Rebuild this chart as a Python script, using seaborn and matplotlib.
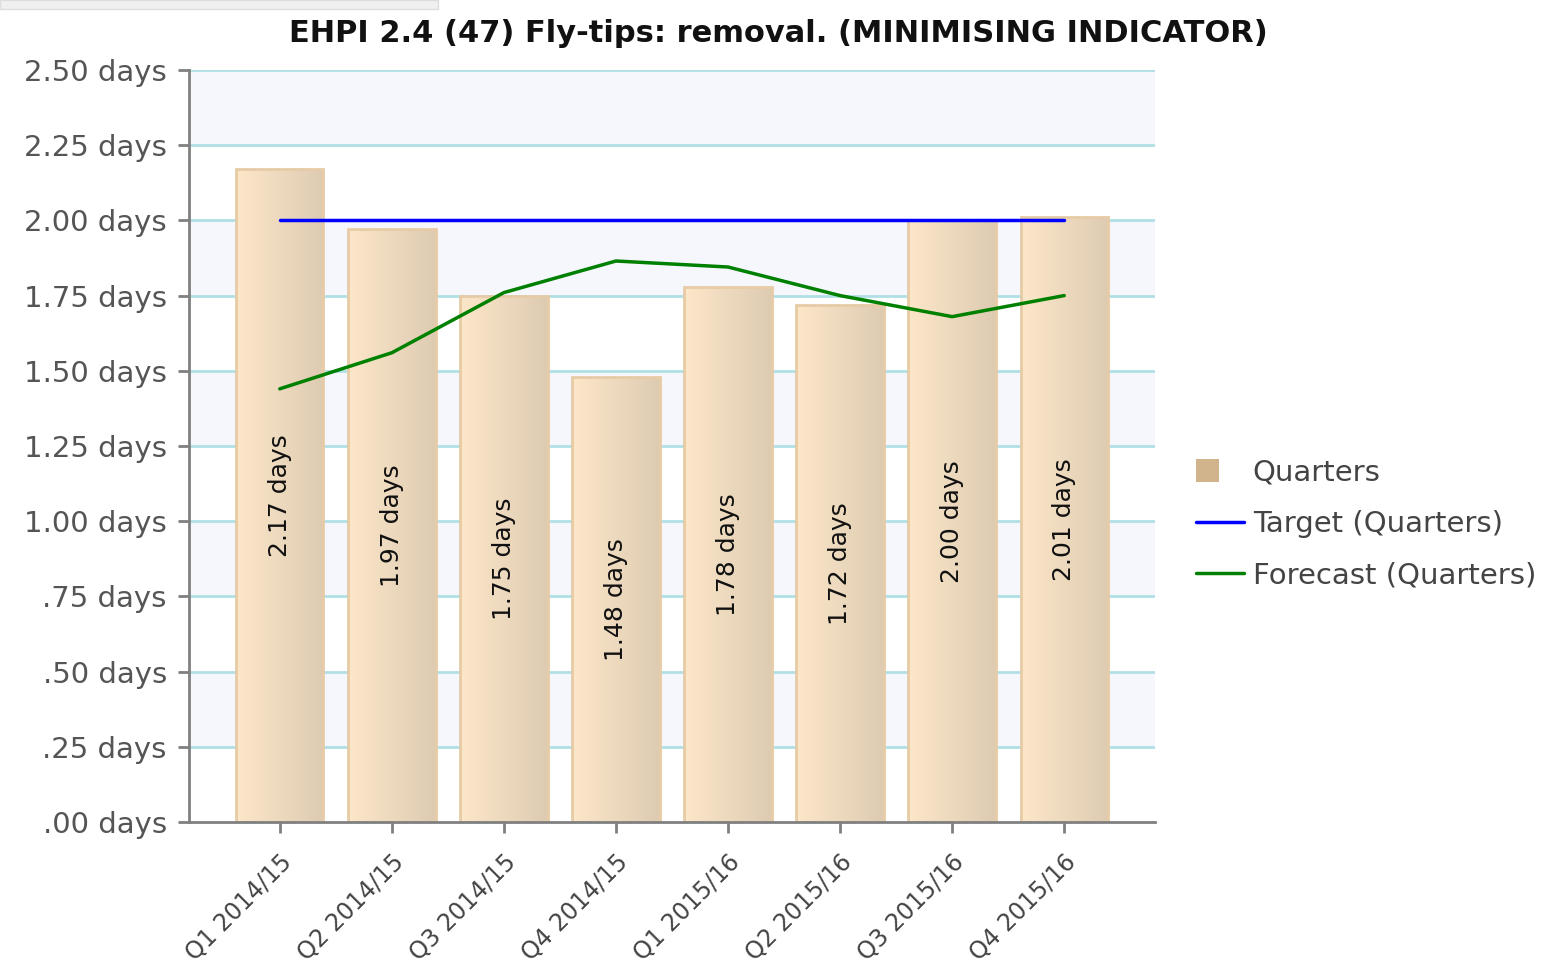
import numpy as np
import pandas as pd
import matplotlib
matplotlib.use("Agg")
import matplotlib.pyplot as plt
import seaborn as sns
from matplotlib.patches import Patch, Rectangle
from matplotlib.lines import Line2D
from matplotlib.ticker import FixedLocator
from matplotlib.colors import LinearSegmentedColormap
from matplotlib.legend_handler import HandlerPatch

quarters = ["Q1 2014/15", "Q2 2014/15", "Q3 2014/15", "Q4 2014/15",
            "Q1 2015/16", "Q2 2015/16", "Q3 2015/16", "Q4 2015/16"]
actual = [2.17, 1.97, 1.75, 1.48, 1.78, 1.72, 2.00, 2.01]
target = [2.00, 2.00, 2.00, 2.00, 2.00, 2.00, 2.00, 2.00]
forecast = [1.44, 1.56, 1.76, 1.865, 1.845, 1.75, 1.68, 1.75]
ytick_vals = [0, 0.25, 0.5, 0.75, 1.0, 1.25, 1.5, 1.75, 2.0, 2.25, 2.5]
ytick_labels = [".00 days", ".25 days", ".50 days", ".75 days", "1.00 days",
                "1.25 days", "1.50 days", "1.75 days", "2.00 days",
                "2.25 days", "2.50 days"]
title = "EHPI 2.4 (47) Fly-tips: removal. (MINIMISING INDICATOR)"

sns.set_theme(style="white")
plt.rcParams["font.family"] = ["DejaVu Sans"]

df = pd.DataFrame({"quarter": quarters, "actual": actual,
                   "target": target, "forecast": forecast})
df["pos"] = np.arange(len(df))

fig = plt.figure(figsize=(15.57, 9.67), dpi=100)
ax = fig.add_axes([0.1214, 0.150, 0.6204, 0.7776])

sns.barplot(data=df, x="quarter", y="actual", ax=ax, width=0.78,
            color="#f6dfc0", edgecolor="#e6cba6", linewidth=2, zorder=2,
            saturation=1)

# gradient fill for bars
grad = np.linspace(0, 1, 256).reshape(1, -1)
cmap = LinearSegmentedColormap.from_list("g", ["#fde7c9", "#ddcbb2"])
for p in ax.containers[0].patches:
    x0, y0 = p.get_x(), p.get_y()
    w, h = p.get_width(), p.get_height()
    im = ax.imshow(grad, extent=[x0, x0 + w, y0, y0 + h], cmap=cmap,
                   aspect="auto", zorder=1.8, interpolation="bilinear")
    im.set_clip_path(p)
    p.set_facecolor("none")

# background bands and grid
for lo in [0.25, 0.75, 1.25, 1.75, 2.25]:
    ax.axhspan(lo, lo + 0.25, color="#f6f7fd", zorder=0, lw=0)
for v in ytick_vals[1:]:
    ax.axhline(v, color="#b0e0e6", lw=2, zorder=0.5)

sns.lineplot(data=df, x="pos", y="target", ax=ax, color="#0000ff", lw=2.5,
             zorder=4)
sns.lineplot(data=df, x="pos", y="forecast", ax=ax, color="#008000", lw=2.5,
             zorder=4)

for i, v in enumerate(actual):
    ax.text(i, v / 2, f"{v:.2f} days", rotation=90, ha="center", va="center",
            fontsize=18, color="#111111", zorder=5)

ax.set_xlim(-0.81, 7.81)
ax.set_ylim(0, 2.5)
ax.yaxis.set_major_locator(FixedLocator(ytick_vals))
ax.set_yticklabels(ytick_labels, fontsize=21, color="#555555")
ax.set_xticks(range(len(quarters)))
ax.set_xticklabels(quarters, rotation=45, ha="right", rotation_mode="anchor",
                   fontsize=17, color="#444444")
ax.set_xlabel("")
ax.set_ylabel("")
ax.tick_params(axis="both", which="both", length=8, width=2, color="#808080",
               left=True, bottom=True, direction="out")
ax.tick_params(axis="x", pad=12)
ax.tick_params(axis="y", pad=8)
for s in ["top", "right"]:
    ax.spines[s].set_visible(False)
for s in ["left", "bottom"]:
    ax.spines[s].set_color("#808080")
    ax.spines[s].set_linewidth(2)
    ax.spines[s].set_zorder(6)

fig.suptitle(title, fontsize=22, fontweight="bold", x=0.5, y=0.98,
             va="top", color="#111111")


class SquareHandler(HandlerPatch):
    def create_artists(self, legend, orig_handle, xdescent, ydescent,
                       width, height, fontsize, trans):
        s = height * 1.15
        r = Rectangle((-xdescent, -ydescent + (height - s) / 2), s, s,
                      facecolor=orig_handle.get_facecolor(),
                      edgecolor="none", transform=trans)
        return [r]


handles = [Patch(facecolor="#d2b48c", edgecolor="none"),
           Line2D([], [], color="#0000ff", lw=2.5),
           Line2D([], [], color="#008000", lw=2.5)]
labels = ["Quarters", "Target (Quarters)", "Forecast (Quarters)"]
leg = fig.legend(handles, labels, loc="center left",
                 bbox_to_anchor=(0.768, 0.458), frameon=False, fontsize=21,
                 handlelength=1.65, handletextpad=0.3, labelspacing=0.8,
                 borderpad=0, borderaxespad=0,
                 labelcolor="#444444",
                 handler_map={Patch: SquareHandler()})

# outer frame hints
fig.add_artist(Rectangle((0, 0.991), 0.281, 0.009, transform=fig.transFigure,
                         facecolor="#f0f0f0", edgecolor="#dddddd", lw=1))

fig.savefig("out.png", dpi=100)
